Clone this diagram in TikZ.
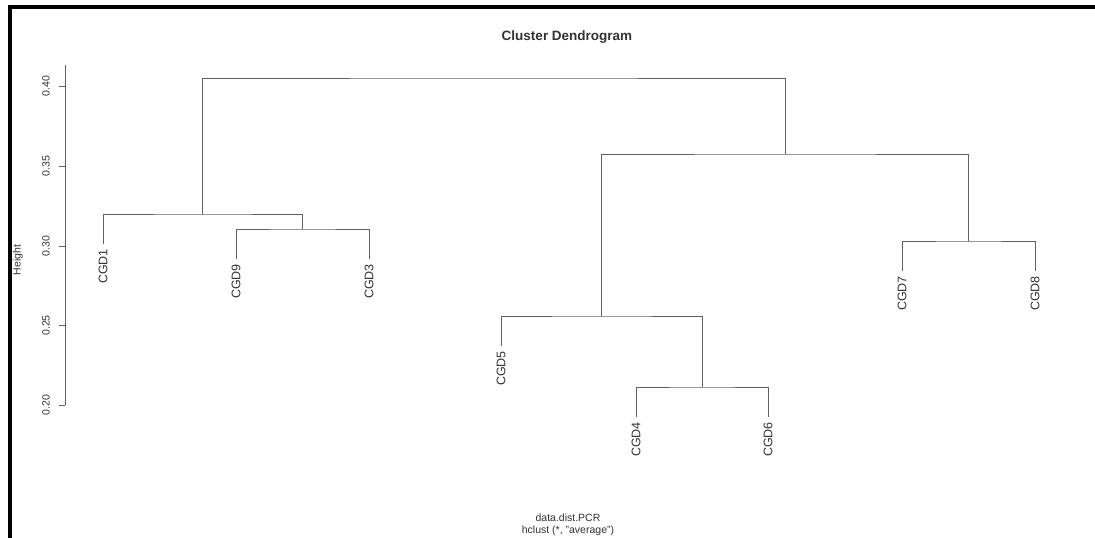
\documentclass[tikz,border=0pt]{standalone}
\usepackage{fontspec}
\setmainfont{Liberation Sans}
\begin{document}
\begin{tikzpicture}[x=1pt,y=-1pt,
  branch/.style={draw=black!62,line width=0.9pt},
  axisline/.style={draw=black!62,line width=0.9pt},
  leaflabel/.style={rotate=90,anchor=east,inner sep=0pt,text=black!80,font=\fontsize{12.5}{14}\selectfont},
  ticklabel/.style={rotate=90,inner sep=0pt,text=black!80,font=\fontsize{10.5}{12}\selectfont},
  plaintext/.style={inner sep=0pt,text=black!80,font=\fontsize{10.5}{12}\selectfont}]
\useasboundingbox (0,0) rectangle (1095,538);
\fill[white] (0,0) rectangle (1095,538);

% frame along the top and left edges
\draw[line width=4pt,line cap=rect] (9.5,538) -- (9.5,7) -- (1095,7);

% title
\node[plaintext,font=\bfseries\fontsize{13.5}{16}\selectfont] (title) at (567,37) {Cluster Dendrogram};

% height axis
\coordinate (ax0) at (65,405);
\coordinate (ax1) at (65,65);
\draw[axisline] (ax0) -- (ax1);
\foreach \v/\yy in {0.20/405,0.25/325.5,0.30/246,0.35/166,0.40/86}{
  \draw[axisline] (59,\yy) -- (65,\yy);
  \node[ticklabel] at (46,\yy) {\v};
}
\node[ticklabel] (ylab) at (18,260) {Height};

% leaf ends
\coordinate (l1) at (103,244);
\coordinate (l9) at (236,259);
\coordinate (l3) at (369,259);
\coordinate (l5) at (501,346);
\coordinate (l4) at (636,417);
\coordinate (l6) at (768,417);
\coordinate (l7) at (902,271);
\coordinate (l8) at (1035,271);

% leaf labels, hung just below each leaf end
\node[leaflabel] (t1) at ([yshift=-5pt]l1) {CGD1};
\node[leaflabel] (t9) at ([yshift=-5pt]l9) {CGD9};
\node[leaflabel] (t3) at ([yshift=-5pt]l3) {CGD3};
\node[leaflabel] (t5) at ([yshift=-5pt]l5) {CGD5};
\node[leaflabel] (t4) at ([yshift=-5pt]l4) {CGD4};
\node[leaflabel] (t6) at ([yshift=-5pt]l6) {CGD6};
\node[leaflabel] (t7) at ([yshift=-5pt]l7) {CGD7};
\node[leaflabel] (t8) at ([yshift=-5pt]l8) {CGD8};

% merge points
\coordinate (m93) at (302.5,229);
\coordinate (mL)  at (202.75,214);
\coordinate (m46) at (702,387);
\coordinate (m5)  at (601.5,316);
\coordinate (m78) at (968.5,241);
\coordinate (mR)  at (785,154);
\coordinate (root) at (494,78);

% branches
\draw[branch] (l9) |- (m93) -| (l3);
\draw[branch] (l1) |- (mL) -| (m93);
\draw[branch] (l4) |- (m46) -| (l6);
\draw[branch] (l5) |- (m5) -| (m46);
\draw[branch] (l7) |- (m78) -| (l8);
\draw[branch] (m5) |- (mR) -| (m78);
\draw[branch] (mL) |- (root) -| (mR);

% caption
\node[plaintext] (sub1) at (568,518) {data.dist.PCR};
\node[plaintext] (sub2) at (568,531) {hclust (*, "average")};
\end{tikzpicture}
\end{document}
